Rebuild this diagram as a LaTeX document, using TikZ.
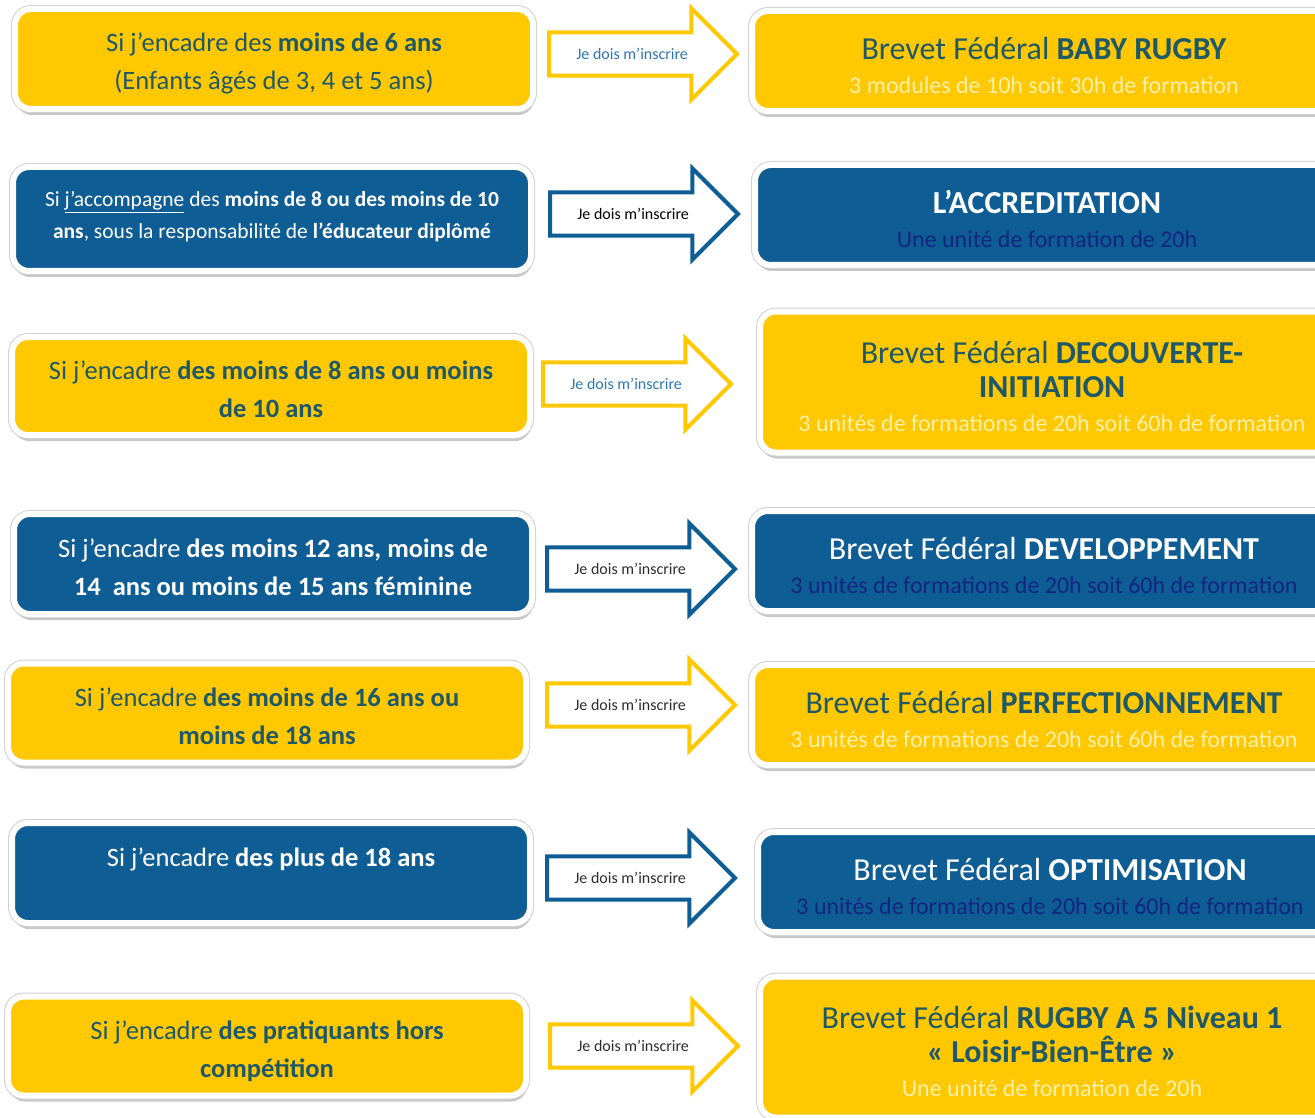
\documentclass[tikz,border=0pt]{standalone}
\usepackage{fontspec}
\setmainfont{Carlito}
\usetikzlibrary{shapes.arrows,shadows}

\definecolor{jaune}{RGB}{255,200,0}
\definecolor{bleu}{RGB}{14,93,148}
\definecolor{sarcelle}{RGB}{31,89,104}
\definecolor{jaunepale}{RGB}{255,240,170}
\definecolor{marine}{RGB}{18,38,128}
\definecolor{bleuclair}{RGB}{46,117,182}
\definecolor{gristexte}{RGB}{45,45,45}

\newcommand{\sousjaune}[1]{{\fontsize{24}{34}\selectfont\color{jaunepale}#1}}
\newcommand{\sousbleu}[1]{{\fontsize{24}{34}\selectfont\color{marine}#1}}

\tikzset{
    cadre/.style={rounded corners=16pt, draw=white, line width=6pt,
        drop shadow={shadow xshift=1pt, shadow yshift=-6pt, fill=black, opacity=0.22},
        preaction={draw=black!18, line width=8pt},
        minimum height=100pt, inner sep=0pt},
    cadrejaune/.style={cadre, fill=jaune},
    cadrebleu/.style={cadre, fill=bleu},
    gauche/.style={minimum width=518pt},
    droite/.style={minimum width=584pt, anchor=west},
    texte/.style={align=center, inner sep=0pt},
    textejaune/.style={texte, text=sarcelle},
    textebleu/.style={texte, text=white},
    tgauche/.style={font=\fontsize{26.5}{38}\selectfont},
    tdroite/.style={font=\fontsize{32}{34}\selectfont},
    fleche/.style={single arrow, single arrow head extend=24pt, minimum height=188pt,
        inner xsep=10pt, inner ysep=14pt, fill=white, line width=4pt,
        anchor=west, font=\fontsize{16}{18}\selectfont},
    flechejaune/.style={fleche, draw=jaune},
    flechebleue/.style={fleche, draw=bleu, text=gristexte}
}

\begin{document}
\begin{tikzpicture}[x=1pt, y=-1pt]
    \useasboundingbox (0,0) rectangle (1315,1118);
    \clip (0,0) rectangle (1315,1118);

    % moins de 6 ans
    \node [cadrejaune, gauche] (g1) at (274,59) {};
    \node [textejaune, tgauche] (tg1) at ([yshift=-4pt]g1.center)
        {Si j’encadre des \textbf{moins de 6 ans}\\(Enfants âgés de 3, 4 et 5 ans)};
    \node [flechejaune, text=bleuclair] (f1) at (547,54) {Je dois m’inscrire};
    \node [cadrejaune, droite] (d1) at (749,61) {};
    \node [textejaune, tdroite] (td1) at ([yshift=-4pt]d1.center)
        {Brevet Fédéral \textbf{BABY RUGBY}\\\sousjaune{3 modules de 10h soit 30h de formation}};

    % accompagnement
    \node [cadrebleu, gauche, minimum height=104pt] (g2) at (272,219) {};
    \node [textebleu, font=\fontsize{21.5}{32}\selectfont] (tg2) at ([yshift=2pt]g2.center)
        {Si \underline{j’accompagne} des \textbf{moins de 8 ou des moins de 10}\\
         \textbf{ans}, sous la responsabilité de \textbf{l’éducateur diplômé}};
    \node [flechebleue, text=black] (f2) at (548,214) {Je dois m’inscrire};
    \node [cadrebleu, droite] (d2) at (752,215) {};
    \node [textebleu, tdroite] (td2) at ([yshift=-4pt]d2.center)
        {\textbf{L’ACCREDITATION}\\\sousbleu{Une unité de formation de 20h}};

    % moins de 8 / 10 ans
    \node [cadrejaune, gauche, minimum height=98pt] (g3) at (271,386) {};
    \node [textejaune, tgauche] (tg3) at ([yshift=-3pt]g3.center)
        {Si j’encadre \textbf{des moins de 8 ans ou moins}\\\textbf{de 10 ans}};
    \node [flechejaune, text=bleuclair] (f3) at (541,384) {Je dois m’inscrire};
    \node [cadrejaune, droite, minimum height=141pt] (d3) at (757,382) {};
    \node [textejaune, tdroite] (td3) at ([yshift=-4pt]d3.center)
        {Brevet Fédéral \textbf{DECOUVERTE-}\\\textbf{INITIATION}\\
         \sousjaune{3 unités de formations de 20h soit 60h de formation}};

    % moins de 12 / 14 / 15 ans
    \node [cadrebleu, gauche] (g4) at (273,564) {};
    \node [textebleu, tgauche] (tg4) at ([yshift=-3pt]g4.center)
        {Si j’encadre \textbf{des moins 12 ans, moins de}\\\textbf{14\ \ ans ou moins de 15 ans féminine}};
    \node [flechebleue] (f4) at (545,569) {Je dois m’inscrire};
    \node [cadrebleu, droite] (d4) at (749,561) {};
    \node [textebleu, tdroite] (td4) at ([yshift=-4pt]d4.center)
        {Brevet Fédéral \textbf{DEVELOPPEMENT}\\\sousbleu{3 unités de formations de 20h soit 60h de formation}};

    % moins de 16 / 18 ans
    \node [cadrejaune, gauche, minimum height=99pt] (g5) at (267,713) {};
    \node [textejaune, tgauche] (tg5) at ([yshift=-3pt]g5.center)
        {Si j’encadre \textbf{des moins de 16 ans ou}\\\textbf{moins de 18 ans}};
    \node [flechejaune, text=gristexte] (f5) at (545,705) {Je dois m’inscrire};
    \node [cadrejaune, droite] (d5) at (749,715) {};
    \node [textejaune, tdroite] (td5) at ([yshift=-4pt]d5.center)
        {Brevet Fédéral \textbf{PERFECTIONNEMENT}\\\sousjaune{3 unités de formations de 20h soit 60h de formation}};

    % plus de 18 ans
    \node [cadrebleu, gauche] (g6) at (271,873) {};
    \node [textebleu, tgauche] (tg6) at ([yshift=14pt]g6.center)
        {Si j’encadre \textbf{des plus de 18 ans}};
    \node [flechebleue] (f6) at (545,878) {Je dois m’inscrire};
    \node [cadrebleu, droite] (d6) at (755,882) {};
    \node [textebleu, tdroite] (td6) at ([yshift=-4pt]d6.center)
        {Brevet Fédéral \textbf{OPTIMISATION}\\\sousbleu{3 unités de formations de 20h soit 60h de formation}};

    % hors competition
    \node [cadrejaune, gauche, minimum height=99pt] (g7) at (267,1046) {};
    \node [textejaune, tgauche] (tg7) at ([yshift=-5pt]g7.center)
        {Si j’encadre \textbf{des pratiquants hors}\\\textbf{compétition}};
    \node [flechejaune, text=gristexte] (f7) at (548,1046) {Je dois m’inscrire};
    \node [cadrejaune, droite, minimum height=141pt] (d7) at (757,1047) {};
    \node [textejaune, tdroite] (td7) at ([yshift=-4pt]d7.center)
        {Brevet Fédéral \textbf{RUGBY A 5 Niveau 1}\\\textbf{«~Loisir-Bien-Être~»}\\
         \sousjaune{Une unité de formation de 20h}};
\end{tikzpicture}
\end{document}
